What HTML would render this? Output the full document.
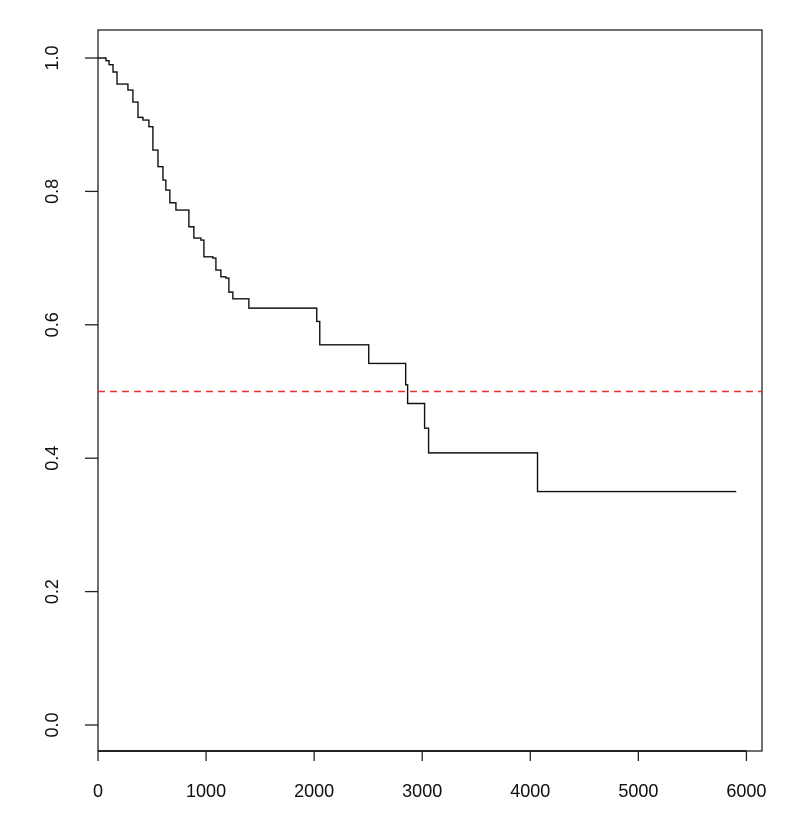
<!DOCTYPE html>
<html><head><meta charset="utf-8"><style>body{margin:0;background:#fff}svg{display:block}text{font-family:"Liberation Sans",Arial,sans-serif;font-size:18px;fill:#111}</style></head>
<body>
<svg id="chart" width="800" height="835" xmlns="http://www.w3.org/2000/svg">
<rect x="98" y="30" width="664" height="721" fill="none" stroke="#222" stroke-width="1.3"/>
<g id="axes"></g>
<g id="marks"></g>
</svg>
<script>
const times=[74,102,139,176,277,323,370,416,471,508,555,601,628,665,721,841,887,952,980,1063,1091,1137,1183,1211,1248,1396,2024,2052,2505,2847,2865,3022,3059,4067];
const surv=[0.996,0.99,0.979,0.961,0.952,0.934,0.911,0.907,0.897,0.862,0.837,0.817,0.802,0.783,0.772,0.747,0.73,0.727,0.702,0.70,0.682,0.672,0.67,0.649,0.639,0.625,0.605,0.57,0.542,0.51,0.482,0.445,0.408,0.35];
const endTime=5906;
const medianLine=0.5;
const xTicks=[0,1000,2000,3000,4000,5000,6000];
const yTicks=[0.0,0.2,0.4,0.6,0.8,1.0];
const NS='http://www.w3.org/2000/svg';
const X=t=>98+t*0.10807;
const Y=s=>725-s*667;
const axes=document.getElementById('axes'),marks=document.getElementById('marks');
function mk(tag,attrs,parent){const e=document.createElementNS(NS,tag);for(const k in attrs)e.setAttribute(k,attrs[k]);parent.appendChild(e);return e;}
const xl=mk('line',{x1:X(0),x2:X(6000),y1:751,y2:751,stroke:'#222','stroke-width':2},axes);


xTicks.forEach(v=>{
 const t=mk('line',{x1:X(v),x2:X(v),y1:751,y2:761,stroke:'#222','stroke-width':1.3},axes);
 
 
 const l=mk('text',{x:X(v),y:797,'text-anchor':'middle','font-size':'19'},axes);l.textContent=String(v);
 
 
});
yTicks.forEach(v=>{
 const t=mk('line',{x1:85,x2:98,y1:Y(v),y2:Y(v),stroke:'#222','stroke-width':1.3},axes);
 
 
 const l=mk('text',{x:0,y:0,'text-anchor':'middle','font-size':'23',transform:`translate(58,${Y(v)}) rotate(-90)`},axes);l.textContent=v.toFixed(1);
 
 
});
const ml=mk('line',{x1:98,x2:762,y1:Y(medianLine),y2:Y(medianLine),stroke:'#e8332a','stroke-width':1.4,'stroke-dasharray':'7,5'},marks);


let d=`M${X(0)},${Y(1)}`;
times.forEach((t,i)=>{d+=` H${X(t)} V${Y(surv[i])}`;});
d+=` H${X(endTime)}`;
const p=mk('path',{d:d,fill:'none',stroke:'#111','stroke-width':1.4},marks);


</script>
</body></html>
